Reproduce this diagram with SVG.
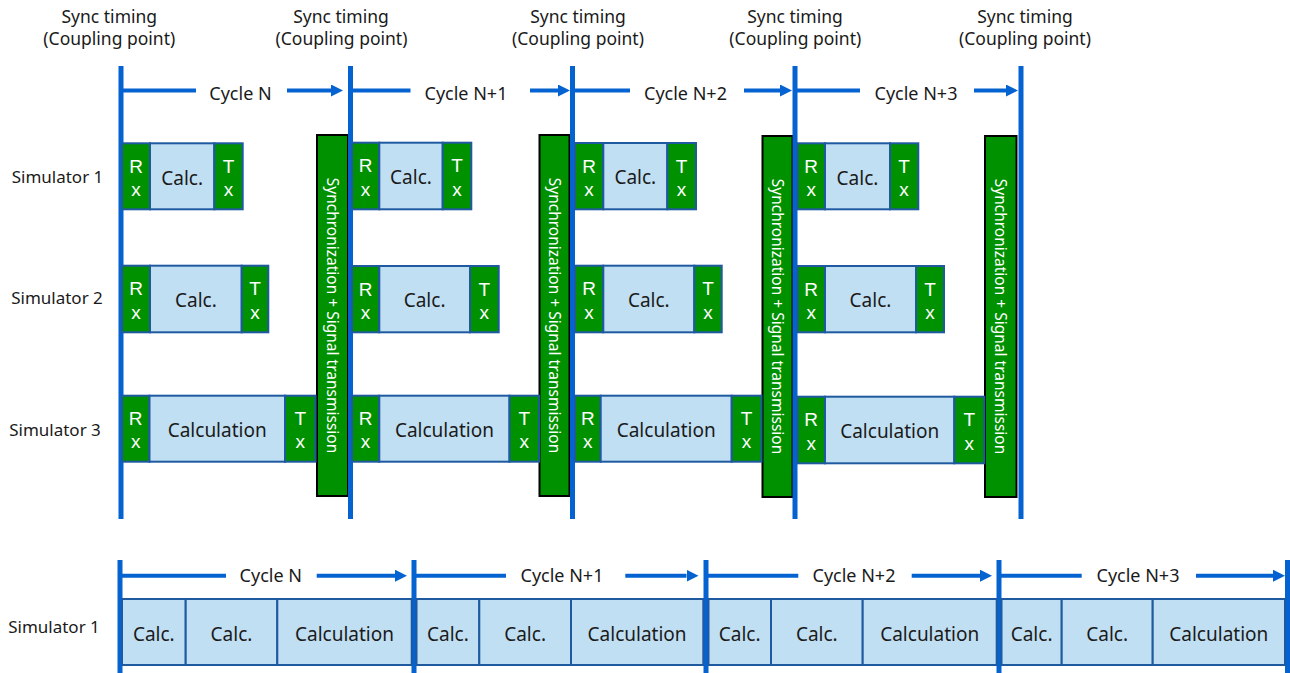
<svg xmlns="http://www.w3.org/2000/svg" width="1290" height="673" viewBox="0 0 1290 673">
  <style>
    .bg { fill: #ffffff; }
    .vline { stroke: #0563d1; stroke-width: 5; fill: none; }
    .arr { stroke: #0563d1; stroke-width: 4; fill: none; }
    .arrm { stroke: #0563d1; stroke-width: 4; fill: none; marker-end: url(#head); }
    .g { fill: #009100; stroke: #1f5aa0; stroke-width: 2; }
    .c { fill: #c1dff2; stroke: #1f5aa0; stroke-width: 2; }
    .sync { fill: #009100; stroke: #000000; stroke-width: 2; }
    text { font-family: "Noto Sans", "Liberation Sans", sans-serif; }
    .hdr { font-size: 17.5px; fill: #1a1a1a; text-anchor: middle; }
    .cyc { font-size: 18px; fill: #1a1a1a; text-anchor: middle; }
    .sim { font-size: 17px; fill: #1a1a1a; text-anchor: middle; }
    .bt { font-size: 19px; fill: #1a1a1a; text-anchor: middle; }
    .wt { font-family: "Liberation Sans", "Noto Sans", sans-serif; font-size: 19px; fill: #ffffff; text-anchor: middle; }
    .st { font-size: 15.5px; fill: #ffffff; text-anchor: middle; dominant-baseline: central; }
  </style>
  <defs>
    <marker id="head" markerUnits="userSpaceOnUse" markerWidth="12" markerHeight="12" refX="0" refY="6" orient="auto">
      <path d="M0,0 L12,6 L0,12 Z" fill="#0563d1"/>
    </marker>
  </defs>

  <rect class="bg" x="0" y="0" width="1290" height="673"/>

  <!-- Sync timing headers -->
  <g id="headers">
    <text class="hdr" x="109.3" y="23">Sync timing<tspan x="109.3" dy="22">(Coupling point)</tspan></text>
    <text class="hdr" x="341" y="23">Sync timing<tspan x="341.5" dy="22">(Coupling point)</tspan></text>
    <text class="hdr" x="578" y="23">Sync timing<tspan x="578" dy="22">(Coupling point)</tspan></text>
    <text class="hdr" x="795" y="23">Sync timing<tspan x="795.3" dy="22">(Coupling point)</tspan></text>
    <text class="hdr" x="1025" y="23">Sync timing<tspan x="1025" dy="22">(Coupling point)</tspan></text>
  </g>

  <!-- Row labels -->
  <g id="labels">
    <text class="sim" x="57.5" y="183">Simulator 1</text>
    <text class="sim" x="57" y="304">Simulator 2</text>
    <text class="sim" x="55" y="436">Simulator 3</text>
    <text class="sim" x="54" y="633">Simulator 1</text>
  </g>

  <!-- Synchronization bars -->
  <g id="sync1">
    <rect class="sync" x="317" y="135" width="31" height="361"/>
    <text class="st" transform="translate(332.5,315.5) rotate(90)">Synchronization + Signal transmission</text>
  </g>
  <g id="sync2">
    <rect class="sync" x="539.5" y="135" width="30" height="361"/>
    <text class="st" transform="translate(554.5,315.5) rotate(90)">Synchronization + Signal transmission</text>
  </g>
  <g id="sync3">
    <rect class="sync" x="762.5" y="136" width="30" height="361"/>
    <text class="st" transform="translate(777.5,316.5) rotate(90)">Synchronization + Signal transmission</text>
  </g>
  <g id="sync4">
    <rect class="sync" x="985" y="136" width="31.5" height="361"/>
    <text class="st" transform="translate(1000.7,316.5) rotate(90)">Synchronization + Signal transmission</text>
  </g>

  <!-- Coupling point lines and cycle arrows -->
  <g id="connectors">
    <line class="vline" x1="121" y1="66" x2="121" y2="519"/>
    <line class="vline" x1="350.5" y1="66" x2="350.5" y2="519"/>
    <line class="vline" x1="572.5" y1="66" x2="572.5" y2="519"/>
    <line class="vline" x1="795" y1="66" x2="795" y2="519"/>
    <line class="vline" x1="1021" y1="66" x2="1021" y2="519"/>

    <line class="arr" x1="123" y1="90.5" x2="196" y2="90.5"/>
    <line class="arrm" x1="287" y1="90.5" x2="331" y2="90.5"/>
    <line class="arr" x1="352" y1="90.5" x2="410.5" y2="90.5"/>
    <line class="arrm" x1="530" y1="90.5" x2="558" y2="90.5"/>
    <line class="arr" x1="574" y1="90.5" x2="630" y2="90.5"/>
    <line class="arrm" x1="744" y1="90.5" x2="780" y2="90.5"/>
    <line class="arr" x1="797" y1="90.5" x2="860" y2="90.5"/>
    <line class="arrm" x1="974" y1="90.5" x2="1006" y2="90.5"/>

    <line class="vline" x1="120" y1="560" x2="120" y2="673"/>
    <line class="vline" x1="414" y1="560" x2="414" y2="673"/>
    <line class="vline" x1="706" y1="560" x2="706" y2="673"/>
    <line class="vline" x1="999" y1="560" x2="999" y2="673"/>
    <line class="vline" x1="1287.5" y1="560" x2="1287.5" y2="673"/>

    <line class="arr" x1="122" y1="575.7" x2="226" y2="575.7"/>
    <line class="arrm" x1="316.7" y1="575.7" x2="395" y2="575.7"/>
    <line class="arr" x1="416" y1="575.7" x2="506" y2="575.7"/>
    <line class="arrm" x1="625.3" y1="575.7" x2="686.5" y2="575.7"/>
    <line class="arr" x1="708" y1="575.7" x2="798.3" y2="575.7"/>
    <line class="arrm" x1="911.7" y1="575.7" x2="980" y2="575.7"/>
    <line class="arr" x1="1001" y1="575.7" x2="1081.7" y2="575.7"/>
    <line class="arrm" x1="1196" y1="575.7" x2="1273" y2="575.7"/>
  </g>

  <!-- Cycle labels -->
  <g id="cycles">
    <text class="cyc" x="240.5" y="99.5">Cycle N</text>
    <text class="cyc" x="466" y="99.5">Cycle N+1</text>
    <text class="cyc" x="685.5" y="99.5">Cycle N+2</text>
    <text class="cyc" x="916" y="99.5">Cycle N+3</text>
    <text class="cyc" x="270.8" y="582">Cycle N</text>
    <text class="cyc" x="562" y="582">Cycle N+1</text>
    <text class="cyc" x="854" y="582">Cycle N+2</text>
    <text class="cyc" x="1138" y="582">Cycle N+3</text>
  </g>

  <!-- Cycle N -->
  <g id="c1-sim1">
    <rect class="g" x="122" y="143.3" width="28" height="66"/>
    <text class="wt" x="136" y="172.7">R<tspan x="136" dy="23.3">x</tspan></text>
    <rect class="c" x="150" y="143.3" width="64.3" height="66"/>
    <text class="bt" x="182.2" y="184.5">Calc.</text>
    <rect class="g" x="214.3" y="143.3" width="28.4" height="66"/>
    <text class="wt" x="228.5" y="172.7">T<tspan x="228.5" dy="23.3">x</tspan></text>
  </g>
  <g id="c1-sim2">
    <rect class="g" x="122" y="265.7" width="28" height="66.6"/>
    <text class="wt" x="136" y="295.4">R<tspan x="136" dy="23.3">x</tspan></text>
    <rect class="c" x="150" y="265.7" width="91.7" height="66.6"/>
    <text class="bt" x="195.9" y="307.2">Calc.</text>
    <rect class="g" x="241.7" y="265.7" width="26.6" height="66.6"/>
    <text class="wt" x="255" y="295.4">T<tspan x="255" dy="23.3">x</tspan></text>
  </g>
  <g id="c1-sim3">
    <rect class="g" x="122" y="395.7" width="27.5" height="66"/>
    <text class="wt" x="135.7" y="425.1">R<tspan x="135.7" dy="23.3">x</tspan></text>
    <rect class="c" x="149.5" y="395.7" width="135.5" height="66"/>
    <text class="bt" x="217.2" y="436.9">Calculation</text>
    <rect class="g" x="285" y="395.7" width="30.5" height="66"/>
    <text class="wt" x="300.2" y="425.1">T<tspan x="300.2" dy="23.3">x</tspan></text>
  </g>

  <!-- Cycle N+1 -->
  <g id="c2-sim1">
    <rect class="g" x="352" y="142.7" width="27.3" height="66.6"/>
    <text class="wt" x="365.6" y="172.4">R<tspan x="365.6" dy="23.3">x</tspan></text>
    <rect class="c" x="379.3" y="142.7" width="63.4" height="66.6"/>
    <text class="bt" x="411" y="184.2">Calc.</text>
    <rect class="g" x="442.7" y="142.7" width="28.6" height="66.6"/>
    <text class="wt" x="457" y="172.4">T<tspan x="457" dy="23.3">x</tspan></text>
  </g>
  <g id="c2-sim2">
    <rect class="g" x="352" y="266" width="27.3" height="66.3"/>
    <text class="wt" x="365.6" y="295.5">R<tspan x="365.6" dy="23.3">x</tspan></text>
    <rect class="c" x="379.3" y="266" width="90.7" height="66.3"/>
    <text class="bt" x="424.6" y="307.3">Calc.</text>
    <rect class="g" x="470" y="266" width="28.7" height="66.3"/>
    <text class="wt" x="484.3" y="295.5">T<tspan x="484.3" dy="23.3">x</tspan></text>
  </g>
  <g id="c2-sim3">
    <rect class="g" x="352" y="395.7" width="27.3" height="66"/>
    <text class="wt" x="365.6" y="425.1">R<tspan x="365.6" dy="23.3">x</tspan></text>
    <rect class="c" x="379.3" y="395.7" width="130.2" height="66"/>
    <text class="bt" x="444.4" y="436.9">Calculation</text>
    <rect class="g" x="509.5" y="395.7" width="29.5" height="66"/>
    <text class="wt" x="524.2" y="425.1">T<tspan x="524.2" dy="23.3">x</tspan></text>
  </g>

  <!-- Cycle N+2 -->
  <g id="c3-sim1">
    <rect class="g" x="575" y="143" width="28.3" height="66.3"/>
    <text class="wt" x="589.1" y="172.6">R<tspan x="589.1" dy="23.3">x</tspan></text>
    <rect class="c" x="603.3" y="143" width="64" height="66.3"/>
    <text class="bt" x="635.3" y="184.4">Calc.</text>
    <rect class="g" x="667.3" y="143" width="28.7" height="66.3"/>
    <text class="wt" x="681.6" y="172.6">T<tspan x="681.6" dy="23.3">x</tspan></text>
  </g>
  <g id="c3-sim2">
    <rect class="g" x="575" y="265.7" width="28.3" height="66.6"/>
    <text class="wt" x="589.1" y="295.4">R<tspan x="589.1" dy="23.3">x</tspan></text>
    <rect class="c" x="603.3" y="265.7" width="91" height="66.6"/>
    <text class="bt" x="648.8" y="307.2">Calc.</text>
    <rect class="g" x="694.3" y="265.7" width="27.4" height="66.6"/>
    <text class="wt" x="708" y="295.4">T<tspan x="708" dy="23.3">x</tspan></text>
  </g>
  <g id="c3-sim3">
    <rect class="g" x="575" y="395.7" width="25.7" height="66"/>
    <text class="wt" x="587.8" y="425.1">R<tspan x="587.8" dy="23.3">x</tspan></text>
    <rect class="c" x="600.7" y="395.7" width="131" height="66"/>
    <text class="bt" x="666.2" y="436.9">Calculation</text>
    <rect class="g" x="731.7" y="395.7" width="29.8" height="66"/>
    <text class="wt" x="746.6" y="425.1">T<tspan x="746.6" dy="23.3">x</tspan></text>
  </g>

  <!-- Cycle N+3 -->
  <g id="c4-sim1">
    <rect class="g" x="797.5" y="143.3" width="27.5" height="66"/>
    <text class="wt" x="811.2" y="172.7">R<tspan x="811.2" dy="23.3">x</tspan></text>
    <rect class="c" x="825" y="143.3" width="65" height="66"/>
    <text class="bt" x="857.5" y="184.5">Calc.</text>
    <rect class="g" x="890" y="143.3" width="28.3" height="66"/>
    <text class="wt" x="904.1" y="172.7">T<tspan x="904.1" dy="23.3">x</tspan></text>
  </g>
  <g id="c4-sim2">
    <rect class="g" x="797.5" y="266" width="27.5" height="66.3"/>
    <text class="wt" x="811.2" y="295.5">R<tspan x="811.2" dy="23.3">x</tspan></text>
    <rect class="c" x="825" y="266" width="91" height="66.3"/>
    <text class="bt" x="870.5" y="307.3">Calc.</text>
    <rect class="g" x="916" y="266" width="28" height="66.3"/>
    <text class="wt" x="930" y="295.5">T<tspan x="930" dy="23.3">x</tspan></text>
  </g>
  <g id="c4-sim3">
    <rect class="g" x="797.5" y="396.7" width="27.5" height="66.6"/>
    <text class="wt" x="811.2" y="426.4">R<tspan x="811.2" dy="23.3">x</tspan></text>
    <rect class="c" x="825" y="396.7" width="129.3" height="66.6"/>
    <text class="bt" x="889.7" y="438.2">Calculation</text>
    <rect class="g" x="954.3" y="396.7" width="30" height="66.6"/>
    <text class="wt" x="969.3" y="426.4">T<tspan x="969.3" dy="23.3">x</tspan></text>
  </g>

  <!-- Single-simulator timeline -->
  <g id="b1">
    <rect class="c" x="122" y="599" width="63.7" height="66"/>
    <text class="bt" x="153.8" y="640.5">Calc.</text>
    <rect class="c" x="185.7" y="599" width="91.6" height="66"/>
    <text class="bt" x="231.5" y="640.5">Calc.</text>
    <rect class="c" x="277.3" y="599" width="134.4" height="66"/>
    <text class="bt" x="344.5" y="640.5">Calculation</text>
  </g>
  <g id="b2">
    <rect class="c" x="416.5" y="599" width="62.8" height="66"/>
    <text class="bt" x="447.9" y="640.5">Calc.</text>
    <rect class="c" x="479.3" y="599" width="91.7" height="66"/>
    <text class="bt" x="525.1" y="640.5">Calc.</text>
    <rect class="c" x="571" y="599" width="132.3" height="66"/>
    <text class="bt" x="637.1" y="640.5">Calculation</text>
  </g>
  <g id="b3">
    <rect class="c" x="708.5" y="599" width="62.5" height="66"/>
    <text class="bt" x="739.7" y="640.5">Calc.</text>
    <rect class="c" x="771" y="599" width="91.7" height="66"/>
    <text class="bt" x="816.8" y="640.5">Calc.</text>
    <rect class="c" x="862.7" y="599" width="134" height="66"/>
    <text class="bt" x="929.7" y="640.5">Calculation</text>
  </g>
  <g id="b4">
    <rect class="c" x="1001.5" y="599" width="60.2" height="66"/>
    <text class="bt" x="1031.6" y="640.5">Calc.</text>
    <rect class="c" x="1061.7" y="599" width="91" height="66"/>
    <text class="bt" x="1107.2" y="640.5">Calc.</text>
    <rect class="c" x="1152.7" y="599" width="132.3" height="66"/>
    <text class="bt" x="1218.8" y="640.5">Calculation</text>
  </g>
</svg>
